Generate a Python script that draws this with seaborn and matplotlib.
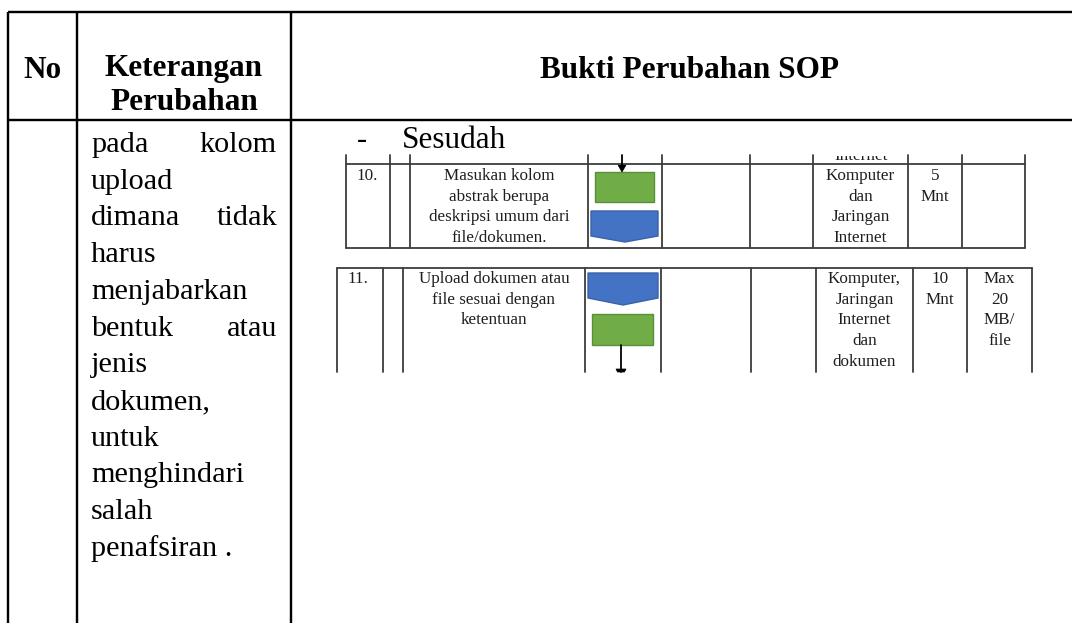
import numpy as np
import matplotlib.pyplot as plt
import seaborn as sns
from matplotlib.patches import Rectangle, Polygon

# ---- table content ----
HEADER_NO = "No"
HEADER_KET = ["Keterangan", "Perubahan"]
HEADER_BUKTI = "Bukti Perubahan SOP"

KET_LINES = ["pada kolom", "upload", "dimana tidak", "harus", "menjabarkan",
             "bentuk atau", "jenis", "dokumen,", "untuk", "menghindari",
             "salah", "penafsiran ."]
KET_JUSTIFY = [True, False, True, False, False, True, False, False, False,
               False, False, False]

SUBTITLE = "Sesudah"

STEP_NO = ["10.", "11."]
STEP_TEXT = [["Masukan kolom", "abstrak berupa", "deskripsi umum dari", "file/dokumen."],
             ["Upload dokumen atau", "file sesuai dengan", "ketentuan"]]
STEP_TOOLS = [["Komputer", "dan", "Jaringan", "Internet"],
              ["Komputer,", "Jaringan", "Internet", "dan", "dokumen"]]
STEP_TIME = [["5", "Mnt"], ["10", "Mnt"]]
STEP_OUTPUT = [[], ["Max", "20", "MB/", "file"]]

# ---- layout (pixels) ----
W, H = 1072, 623
OUTER_X = [8, 77, 291]
OUTER_TOP, OUTER_HEAD = 12, 120

ROW_COLS = [[346, 390, 410, 588, 662, 750, 813, 908, 962, 1025],
            [337, 383, 403, 585, 661, 751, 816, 913, 967, 1032]]
ROW_TOP = [164, 268]
ROW_BOTTOM = [248, None]
ROW_VTOP = [155, 268]
ROW_VBOT = [248, 372]
ROW_FIRST = [175, 278]
LINE_STEP = 20.7

sns.set_theme(style='white')
plt.rcParams['font.family'] = ['Liberation Serif', 'DejaVu Serif']

fig = plt.figure(figsize=(W / 100, H / 100), dpi=100)
ax = fig.add_axes([0, 0, 1, 1])
ax.set_xlim(0, W)
ax.set_ylim(H, 0)
ax.axis('off')

def px(v):
    return v * 0.72

# outer table grid
outer_lw = px(2.4)
for y in [OUTER_TOP, OUTER_HEAD]:
    ax.plot([OUTER_X[0], W], [y, y], color='black', lw=outer_lw, solid_capstyle='butt')
for x in OUTER_X:
    ax.plot([x, x], [OUTER_TOP, H], color='black', lw=outer_lw, solid_capstyle='butt')

# header
head_fs = 22.5
ax.text((OUTER_X[0] + OUTER_X[1]) / 2, 78, HEADER_NO, ha='center', va='baseline',
        fontsize=head_fs, fontweight='bold', color='black')
for i, t in enumerate(HEADER_KET):
    ax.text((OUTER_X[1] + OUTER_X[2]) / 2, 76 + i * 34, t, ha='center', va='baseline',
            fontsize=head_fs, fontweight='bold', color='black')
ax.text(690, 78, HEADER_BUKTI, ha='center', va='baseline',
        fontsize=head_fs, fontweight='bold', color='black')

# left description column
body_fs = 21.8
for i, line in enumerate(KET_LINES):
    yb = 152 + i * 36.7
    if KET_JUSTIFY[i]:
        words = line.split()
        ax.text(91, yb, words[0], ha='left', va='baseline', fontsize=body_fs, color='black')
        ax.text(277, yb, words[-1], ha='right', va='baseline', fontsize=body_fs, color='black')
    else:
        ax.text(91, yb, line, ha='left', va='baseline', fontsize=body_fs, color='black')

# "- Sesudah"
ax.text(357, 148, "-", ha='left', va='baseline', fontsize=body_fs, color='black')
ax.text(402, 148, SUBTITLE, ha='left', va='baseline', fontsize=22.5, color='black')

# embedded SOP rows
in_lw = px(1.8)
in_col = '#3c3c3c'
txt_col = '#1e1e1e'
in_fs = 12.3
for r in range(2):
    cols = ROW_COLS[r]
    ax.plot([cols[0], cols[-1]], [ROW_TOP[r], ROW_TOP[r]], color=in_col, lw=in_lw)
    if ROW_BOTTOM[r] is not None:
        ax.plot([cols[0], cols[-1]], [ROW_BOTTOM[r], ROW_BOTTOM[r]], color=in_col, lw=in_lw)
    for x in cols:
        ax.plot([x, x], [ROW_VTOP[r], ROW_VBOT[r]], color=in_col, lw=in_lw)

    def column_text(lines, c, r=r, cols=cols):
        cx = (cols[c] + cols[c + 1]) / 2
        for k, t in enumerate(lines):
            ax.text(cx, ROW_FIRST[r] + 5 + k * LINE_STEP, t, ha='center', va='baseline',
                    fontsize=in_fs, color=txt_col)

    ax.text(cols[0] + 11, ROW_FIRST[r] + 5, STEP_NO[r], ha='left', va='baseline',
            fontsize=in_fs, color=txt_col)
    column_text(STEP_TEXT[r], 2)
    column_text(STEP_TOOLS[r], 6)
    column_text(STEP_TIME[r], 7)
    column_text(STEP_OUTPUT[r], 8)

# cut-off "Internet" from the previous SOP row (only its lower part shows)
t = ax.text(861, 160, "Internet", ha='center', va='baseline', fontsize=in_fs, color=txt_col)
t.set_clip_on(True)
t.set_clip_path(Rectangle((800, 155.5), 120, 20, transform=ax.transData))

# flowchart symbols
green, green_e = '#70ad47', '#5a8f3a'
blue, blue_e = '#4472c4', '#3a62a8'
ax.add_patch(Rectangle((595, 172), 59, 30, facecolor=green, edgecolor=green_e, lw=1))
ax.add_patch(Polygon([(591, 211), (658, 211), (658, 236), (625, 242), (591, 236)],
                     closed=True, facecolor=blue, edgecolor=blue_e, lw=1))
ax.plot([622, 622], [155, 166], color='black', lw=px(1.8))
ax.add_patch(Polygon([(618, 165), (626, 165), (622, 172)], closed=True,
                     facecolor='black', edgecolor='black', lw=0.5))

ax.add_patch(Polygon([(588, 273), (658, 273), (658, 298), (623, 305), (588, 298)],
                     closed=True, facecolor=blue, edgecolor=blue_e, lw=1))
ax.add_patch(Rectangle((592, 314), 61, 31, facecolor=green, edgecolor=green_e, lw=1))
ax.plot([621, 621], [345, 372], color='black', lw=px(1.8))
ax.add_patch(Polygon([(616, 369), (626, 369), (624.5, 372), (617.5, 372)], closed=True,
                     facecolor='black', edgecolor='black', lw=0.5))

fig.savefig('out.png', dpi=100, facecolor='white')
